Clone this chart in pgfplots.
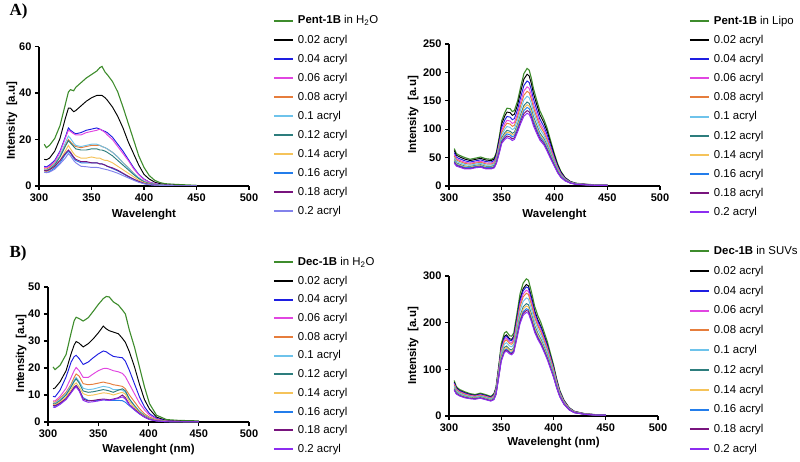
\documentclass[border=0pt]{standalone}
\usepackage{pgfplots}
\pgfplotsset{compat=1.18}
\usepackage{pgfplotstable}
\usepackage{fontspec}
\setmainfont{Liberation Sans}
\newfontfamily\serifb{Liberation Serif}

\definecolor{cG}{RGB}{62,140,44}
\definecolor{cK}{RGB}{0,0,0}
\definecolor{cB}{RGB}{30,30,225}
\definecolor{cM}{RGB}{225,70,225}
\definecolor{cO}{RGB}{230,125,60}
\definecolor{cLB}{RGB}{110,195,235}
\definecolor{cT}{RGB}{45,125,125}
\definecolor{cY}{RGB}{245,195,90}
\definecolor{cDB}{RGB}{35,125,235}
\definecolor{cP}{RGB}{120,20,125}
\definecolor{cV}{RGB}{140,45,240}
\definecolor{cPW}{RGB}{130,130,235}

% Pent-1B in H2O
\pgfplotstableread{
x   g    k    b    m    o    lb   t    y    db   p    v
305 18.0 11.5 8.5  8.0  7.5  7.0  6.8  6.5  6.0  6.8  6.0
307 16.5 11.3 8.2  7.8  7.2  6.8  6.6  6.2  5.8  6.5  5.7
310 17.5 12.0 9.0  8.5  8.0  7.5  7.2  6.8  6.2  7.0  6.0
315 20.5 15.0 11.0 10.5 9.8  9.5  9.0  8.5  7.8  8.5  7.2
320 26.0 20.5 15.0 14.5 13.0 13.0 12.5 11.0 10.0 11.0 9.5
325 35.0 29.0 21.0 20.5 17.5 18.5 17.0 15.0 13.5 14.0 12.0
328 40.5 33.5 25.0 24.0 20.0 21.5 19.5 17.5 15.0 15.5 14.0
330 41.5 33.5 24.0 23.5 19.0 20.5 18.5 16.0 14.0 14.5 13.0
333 41.0 32.0 23.0 22.5 17.5 18.5 17.0 14.0 12.0 12.5 11.0
335 42.5 32.5 22.5 22.0 17.0 17.5 16.0 13.0 11.0 11.5 10.0
340 44.5 34.5 23.0 22.0 16.5 17.0 15.5 12.0 10.0 10.5 8.5
345 46.5 36.5 24.0 23.0 17.0 17.5 15.5 12.0 10.0 10.5 8.3
350 48.0 38.0 24.5 23.5 17.5 18.0 16.0 12.5 10.0 10.0 8.0
355 49.5 39.0 25.0 24.0 17.5 18.0 16.0 12.0 10.0 10.0 8.0
358 51.0 39.0 24.5 24.5 17.5 17.5 15.5 12.0 9.5  9.5  7.8
360 51.5 39.0 24.0 24.0 17.0 17.0 15.5 11.5 9.5  9.5  7.5
363 49.0 38.0 23.5 23.0 16.5 16.5 15.0 11.0 9.0  9.0  7.2
365 48.0 37.0 23.0 22.0 16.0 16.0 14.5 11.0 8.5  8.5  7.0
370 45.0 34.0 21.0 20.0 14.5 14.5 13.0 10.0 7.5  7.8  6.3
375 40.5 30.0 18.0 17.0 12.5 12.5 11.0 8.5  6.5  6.8  5.5
380 34.0 25.0 15.0 14.0 10.0 10.0 9.0  7.0  5.3  5.5  4.5
385 27.0 19.0 11.5 11.0 8.0  7.8  7.0  5.5  4.0  4.2  3.5
390 20.0 14.0 8.0  7.5  5.5  5.5  5.0  4.0  2.8  3.0  2.5
395 13.0 9.0  5.0  4.8  3.5  3.5  3.2  2.5  1.8  2.0  1.6
400 8.0  5.0  3.0  2.8  2.0  2.0  1.8  1.5  1.0  1.2  1.0
405 4.5  3.0  1.7  1.6  1.2  1.2  1.1  0.9  0.6  0.7  0.6
410 2.5  1.7  1.0  1.0  0.7  0.7  0.7  0.5  0.4  0.4  0.4
415 1.5  1.0  0.6  0.6  0.5  0.5  0.4  0.3  0.3  0.3  0.3
420 1.0  0.6  0.4  0.4  0.3  0.3  0.3  0.2  0.2  0.2  0.2
430 0.7  0.3  0.2  0.2  0.2  0.2  0.2  0.1  0.1  0.1  0.1
440 0.5  0.2  0.1  0.1  0.1  0.1  0.1  0.1  0.1  0.1  0.1
450 0.3  0.1  0.1  0.1  0.1  0.1  0.1  0.1  0.1  0.1  0.1
}\tA

% Pent-1B in Lipo
\pgfplotstableread{
x   g   k     b     m     o     lb    t     y     db    p     v
305 66  62.6  58.7  55.3  52.7  49.9  46.5  44.9  43.4  41.5  40
307 57  54.1  50.8  48.0  45.8  43.4  40.5  39.2  37.9  36.3  35
310 54  51.3  48.1  45.4  43.3  41.0  38.3  37.0  35.7  34.3  33
315 50  47.4  44.4  41.8  39.8  37.6  35.0  33.8  32.6  31.2  30
320 47  44.8  42.2  40.0  38.3  36.5  34.3  33.2  32.2  31.0  30
325 49  46.8  44.2  42.0  40.3  38.5  36.3  35.2  34.2  33.0  32
330 51  48.7  46.0  43.6  41.8  39.8  37.5  36.4  35.3  34.0  33
335 48  45.7  43.0  40.6  38.8  36.8  34.5  33.4  32.3  31.0  30
340 47  44.8  42.2  40.0  38.3  36.5  34.3  33.2  32.2  31.0  30
343 50  47.7  45.0  42.6  40.8  38.8  36.5  35.4  34.3  33.0  32
345 60  57.4  54.4  51.8  49.8  47.6  45.0  43.8  42.6  41.2  40
348 90  86.1  81.6  77.7  74.7  71.4  67.5  65.7  63.9  61.8  60
350 115 109.8 103.8 98.6  94.6  90.2  85.0  82.6  80.2  77.4  75
353 130 123.8 116.6 110.3 105.5 100.2 94.0  91.1  88.2  84.9  82
355 137 130.2 122.4 115.7 110.5 104.8 98.0  94.9  91.8  88.1  85
358 136 129.1 121.2 114.3 109.0 103.1 96.3  93.1  89.9  86.2  83
360 131 124.4 116.7 110.1 105.0 99.4  92.8  89.7  86.6  83.0  80
362 133 126.4 118.7 112.1 107.0 101.4 94.8  91.7  88.6  85.0  82
365 150 142.9 134.6 127.5 122.0 115.9 108.8 105.5 102.2 98.3  95
368 175 166.6 156.8 148.4 141.9 134.7 126.3 122.4 118.5 113.9 110
371 198 188.3 177.0 167.3 159.8 151.5 141.8 137.3 132.8 127.5 123
374 207 196.7 184.9 174.6 166.7 158.0 147.8 143.0 138.3 132.7 128
376 204 193.9 182.2 172.0 164.2 155.6 145.5 140.8 136.1 130.7 126
378 190 180.6 169.8 160.5 153.3 145.4 136.0 131.7 127.4 122.3 118
380 172 163.4 153.5 144.9 138.3 131.1 122.5 118.5 114.6 110.0 106
383 152 144.3 135.5 127.8 121.9 115.4 107.8 104.2 100.7 96.5  93
386 133 126.2 118.4 111.7 106.5 100.8 94.0  90.9  87.8  84.1  81
390 117 111.2 104.4 98.6  94.1  89.1  83.3  80.6  77.9  74.7  72
393 102 96.7  90.5  85.2  81.1  76.6  71.3  68.8  66.3  63.5  61
396 82  77.7  72.8  68.5  65.2  61.5  57.3  55.3  53.3  51.0  49
400 56  53.1  49.8  47.0  44.8  42.4  39.5  38.2  36.9  35.3  34
403 39  36.9  34.5  32.4  30.8  29.1  27.0  26.0  25.1  24.0  23
406 26  24.6  22.9  21.5  20.4  19.2  17.8  17.1  16.4  15.7  15
410 15  14.2  13.3  12.5  11.9  11.3  10.5  10.1  9.8   9.4   9
415 8   7.6   7.2   6.8   6.5   6.1   5.8   5.6   5.4   5.2   5
420 5   4.7   4.4   4.2   4.0   3.8   3.5   3.4   3.3   3.1   3
430 3   2.9   2.7   2.6   2.5   2.4   2.3   2.2   2.1   2.1   2
440 2   1.9   1.7   1.6   1.5   1.4   1.3   1.2   1.1   1.1   1
450 2   1.9   1.7   1.6   1.5   1.4   1.3   1.2   1.1   1.1   1
}\tB

% Dec-1B in H2O
\pgfplotstableread{
x   g    k    b    m    o    lb   t    y    db   p    v
305 20.4 12.3 9.5  7.8  7.5  7.0  6.8  6.5  6.0  6.2  5.5
307 19.4 12.6 9.3  7.8  7.3  6.9  6.6  6.3  5.8  6.0  5.4
312 21.0 14.9 11.8 9.5  8.8  8.3  7.9  7.4  6.8  7.0  6.5
318 25.0 19.0 16.7 12.5 11.0 10.5 10.0 9.3  8.5  8.7  8.3
323 33.0 25.3 22.2 16.5 14.0 13.5 13.0 12.0 11.0 11.2 10.8
326 37.5 28.5 24.2 19.0 16.5 15.5 15.0 13.8 12.8 12.8 12.3
328 38.8 29.8 24.7 20.2 17.8 16.5 16.0 14.5 13.5 13.5 13.0
331 38.3 29.2 23.5 19.0 17.0 15.0 14.5 13.0 12.0 12.0 11.5
335 37.4 27.8 21.3 16.5 14.2 12.5 11.5 10.5 9.0  8.5  8.0
340 38.6 29.0 22.2 16.5 13.8 12.0 11.0 9.8  8.0  7.8  7.3
345 41.0 30.8 23.8 17.8 14.0 12.2 11.2 10.0 7.9  8.0  7.5
350 43.5 33.0 25.2 19.0 14.4 12.7 11.6 10.4 8.0  8.3  7.8
355 45.7 35.5 26.3 19.8 14.8 13.2 12.0 10.8 8.2  8.5  8.2
358 46.5 34.5 26.0 19.9 14.5 13.0 11.8 10.7 8.1  8.4  8.1
361 46.3 33.8 25.2 19.6 14.3 12.8 11.5 10.5 8.0  8.2  8.0
365 44.5 33.3 24.3 19.0 13.8 12.0 11.0 10.0 8.0  8.5  8.3
370 43.3 32.7 24.0 18.6 13.5 12.0 11.8 10.6 8.0  9.0  8.8
374 41.5 31.0 23.8 18.0 13.2 11.8 12.3 11.0 7.9  10.0 9.3
377 40.0 29.5 22.5 16.8 12.3 11.0 11.5 10.3 7.3  9.0  8.5
381 34.0 26.0 19.1 14.0 10.0 8.5  8.5  7.5  6.0  6.5  6.3
386 27.8 20.5 14.2 10.5 7.5  6.2  6.0  5.5  4.5  4.8  4.5
391 20.4 14.0 9.3  7.0  5.0  4.0  3.8  3.5  3.0  3.2  3.0
396 13.0 8.3  5.6  4.5  3.0  2.5  2.3  2.1  1.8  1.9  1.8
401 6.8  4.8  3.1  2.5  1.8  1.4  1.3  1.2  1.0  1.0  0.9
408 2.5  1.8  1.3  1.1  0.8  0.6  0.5  0.5  0.4  0.4  0.4
418 0.9  0.5  0.4  0.3  0.3  0.2  0.2  0.2  0.1  0.1  0.1
430 0.6  0.3  0.2  0.2  0.2  0.1  0.1  0.1  0.1  0.1  0.1
450 0.4  0.2  0.1  0.1  0.1  0.1  0.1  0.1  0.1  0.1  0.1
}\tC

% Dec-1B in SUVs
\pgfplotstableread{
x   g   k     b     m     o     lb    t     y     db    p     v
305 76  72.4  71.0  68.9  67.0  64.0  60.5  59.0  57.3  56.3  55
307 63  60.3  59.2  57.6  56.1  53.9  51.2  50.0  48.8  48.0  47
310 57  54.6  53.6  52.2  51.0  49.0  46.6  45.7  44.5  43.8  43
315 52  49.8  48.9  47.6  46.4  44.6  42.4  41.5  40.4  39.8  39
320 48  46.1  45.4  44.3  43.3  41.7  39.9  39.1  38.2  37.7  37
325 46  44.3  43.6  42.6  41.7  40.3  38.6  37.9  37.1  36.6  36
330 49  47.1  46.4  45.3  44.3  42.7  40.9  40.1  39.2  38.7  38
335 46  44.1  43.4  42.3  41.3  39.7  37.9  37.1  36.2  35.7  35
340 42  40.3  39.6  38.6  37.7  36.3  34.6  33.9  33.1  32.6  32
343 48  45.8  44.9  43.6  42.4  40.6  38.4  37.5  36.4  35.8  35
345 62  59.3  58.2  56.6  55.1  52.9  50.2  49.0  47.8  47.0  46
348 115 110.4 108.5 105.8 103.4 99.6  95.0  93.1  91.0  89.6  88
350 155 148.5 145.9 142.1 138.7 133.3 126.9 124.2 121.2 119.3 117
353 178 170.9 167.9 163.7 159.9 154.1 146.9 144.0 140.6 138.5 136
355 181 173.9 170.9 166.7 162.9 157.1 149.9 147.0 143.6 141.5 139
358 172 165.4 162.6 158.7 155.2 149.8 143.1 140.4 137.3 135.3 133
360 171 164.2 161.4 157.4 153.8 148.2 141.4 138.6 135.4 133.4 131
362 178 170.9 167.9 163.7 159.9 154.1 146.9 144.0 140.6 138.5 136
365 219 210.0 206.3 201.0 196.2 188.8 179.8 176.1 171.8 169.2 166
368 262 251.1 246.6 240.2 234.5 225.5 214.6 210.2 205.0 201.8 198
371 285 273.3 268.4 261.5 255.3 245.7 233.9 229.1 223.6 220.1 216
374 294 281.8 276.7 269.5 263.0 253.0 240.7 235.7 229.9 226.3 222
376 291 278.9 274.0 266.9 260.5 250.5 238.5 233.5 227.8 224.3 220
379 265 254.1 249.6 243.2 237.5 228.5 217.6 213.2 208.0 204.8 201
382 235 225.5 221.6 216.0 210.9 203.1 193.6 189.6 185.2 182.4 179
385 215 206.3 202.8 197.7 193.1 185.9 177.3 173.7 169.6 167.1 164
388 200 191.8 188.5 183.7 179.4 172.6 164.5 161.1 157.3 154.9 152
391 180 172.7 169.7 165.4 161.5 155.5 148.2 145.2 141.7 139.6 137
394 160 153.4 150.6 146.7 143.2 137.8 131.1 128.4 125.3 123.3 121
397 135 129.4 127.1 123.8 120.8 116.2 110.6 108.3 105.6 104.0 102
400 110 105.4 103.5 100.8 98.4  94.6  90.0  88.1  86.0  84.6  83
403 80  76.6  75.2  73.2  71.4  68.6  65.2  63.8  62.2  61.2  60
406 55  52.6  51.6  50.2  49.0  47.0  44.6  43.7  42.5  41.8  41
410 34  32.5  31.8  30.9  30.1  28.9  27.3  26.7  26.0  25.5  25
415 18  17.2  16.8  16.3  15.9  15.2  14.3  14.0  13.6  13.3  13
420 10  9.5   9.3   9.0   8.7   8.3   7.8   7.6   7.3   7.2   7
430 5   4.7   4.6   4.5   4.4   4.1   3.9   3.8   3.7   3.6   3.5
440 3   2.8   2.8   2.7   2.6   2.4   2.3   2.2   2.1   2.1   2
450 3   2.8   2.8   2.7   2.6   2.4   2.3   2.2   2.1   2.1   2
}\tD

\newcommand{\drawset}[2]{%
  \addplot[cG, line width=1.1pt] table[x=x,y=g]{#1};
  \addplot[cK] table[x=x,y=k]{#1};
  \addplot[cB] table[x=x,y=b]{#1};
  \addplot[cM] table[x=x,y=m]{#1};
  \addplot[cO] table[x=x,y=o]{#1};
  \addplot[cLB] table[x=x,y=lb]{#1};
  \addplot[cT] table[x=x,y=t]{#1};
  \addplot[cY] table[x=x,y=y]{#1};
  \addplot[cDB] table[x=x,y=db]{#1};
  \addplot[cP] table[x=x,y=p]{#1};
  \addplot[#2] table[x=x,y=v]{#1};
}

\pgfplotsset{panel/.style={
  scale only axis, xmin=300, xmax=500, ymin=0,
  axis x line*=bottom, axis y line*=left,
  axis line style={line width=1.6pt},
  xtick={300,350,400,450,500},
  tick align=outside, major tick length=4pt,
  tick style={line width=1.3pt, black},
  ticklabel style={font=\fontsize{11}{12}\selectfont\bfseries},
  /pgf/number format/assume math mode=true,
  label style={font=\fontsize{11.5}{13}\selectfont\bfseries},
  every axis plot/.append style={line width=0.95pt},
  legend cell align=left,
  legend style={draw=none, fill=none, anchor=north west,
    font=\fontsize{11.4}{13}\selectfont,
    inner sep=0pt, outer sep=0pt, column sep=4pt,
    nodes={inner sep=0pt, text height=8.6pt, text depth=2pt}},
  legend image code/.code={\draw[##1, line width=2pt] (0pt,0pt) -- (19pt,0pt);},
}}

\begin{document}
\begin{tikzpicture}
\path[use as bounding box] (0pt,0pt) rectangle (800pt,461pt);

\node[font=\serifb\bfseries\fontsize{17}{17}\selectfont, anchor=west] at (6pt,450pt) {A)};
\node[font=\serifb\bfseries\fontsize{17}{17}\selectfont, anchor=west] at (6pt,208pt) {B)};

% A left
\begin{axis}[panel, at={(39pt,275pt)}, anchor=south west, width=210pt, height=139.3pt,
  ymax=60, ytick={0,20,40,60},
  xlabel={Wavelenght}, ylabel={Intensity\ \ [a.u]},
  xlabel style={at={(axis description cs:0.5,-0.208)}, anchor=center},
  ylabel style={at={(axis description cs:-0.129,0.47)}, anchor=center},
  legend style={at={(axis description cs:1.114,1.225)}, row sep=8.47pt},
  legend entries={{\textbf{Pent-1B} in H\textsubscript{2}O},0.02 acryl,0.04 acryl,0.06 acryl,0.08 acryl,0.1 acryl,0.12 acryl,0.14 acryl,0.16 acryl,0.18 acryl,0.2 acryl}]
\drawset{\tA}{cPW}
\end{axis}

% A right
\begin{axis}[panel, at={(449pt,275pt)}, anchor=south west, width=211pt, height=142pt,
  ymax=250, ytick={0,50,100,150,200,250},
  xlabel={Wavelenght}, ylabel={Intensity\ \ [a.u]},
  xlabel style={at={(axis description cs:0.5,-0.204)}, anchor=center},
  ylabel style={at={(axis description cs:-0.17,0.5)}, anchor=center},
  legend style={at={(axis description cs:1.137,1.201)}, row sep=8.57pt},
  legend entries={{\textbf{Pent-1B} in Lipo},0.02 acryl,0.04 acryl,0.06 acryl,0.08 acryl,0.1 acryl,0.12 acryl,0.14 acryl,0.16 acryl,0.18 acryl,0.2 acryl}]
\drawset{\tB}{cV}
\end{axis}

% B left
\begin{axis}[panel, at={(48pt,39pt)}, anchor=south west, width=201pt, height=135pt,
  ymax=50, ytick={0,10,20,30,40,50},
  xlabel={Wavelenght (nm)}, ylabel={Intensity\ \ [a.u]},
  xlabel style={at={(axis description cs:0.5,-0.207)}, anchor=center},
  ylabel style={at={(axis description cs:-0.134,0.51)}, anchor=center},
  legend style={at={(axis description cs:1.119,1.222)}, row sep=8.07pt},
  legend entries={{\textbf{Dec-1B} in H\textsubscript{2}O},0.02 acryl,0.04 acryl,0.06 acryl,0.08 acryl,0.1 acryl,0.12 acryl,0.14 acryl,0.16 acryl,0.18 acryl,0.2 acryl}]
\drawset{\tC}{cV}
\end{axis}

% B right
\begin{axis}[panel, at={(449pt,45pt)}, anchor=south west, width=209pt, height=140pt,
  ymax=300, ytick={0,100,200,300},
  xlabel={Wavelenght (nm)}, ylabel={Intensity\ \ [a.u]},
  xlabel style={at={(axis description cs:0.5,-0.193)}, anchor=center},
  ylabel style={at={(axis description cs:-0.172,0.5)}, anchor=center},
  legend style={at={(axis description cs:1.148,1.214)}, row sep=9.17pt},
  legend entries={{\textbf{Dec-1B} in SUVs},0.02 acryl,0.04 acryl,0.06 acryl,0.08 acryl,0.1 acryl,0.12 acryl,0.14 acryl,0.16 acryl,0.18 acryl,0.2 acryl}]
\drawset{\tD}{cV}
\end{axis}
\end{tikzpicture}
\end{document}
